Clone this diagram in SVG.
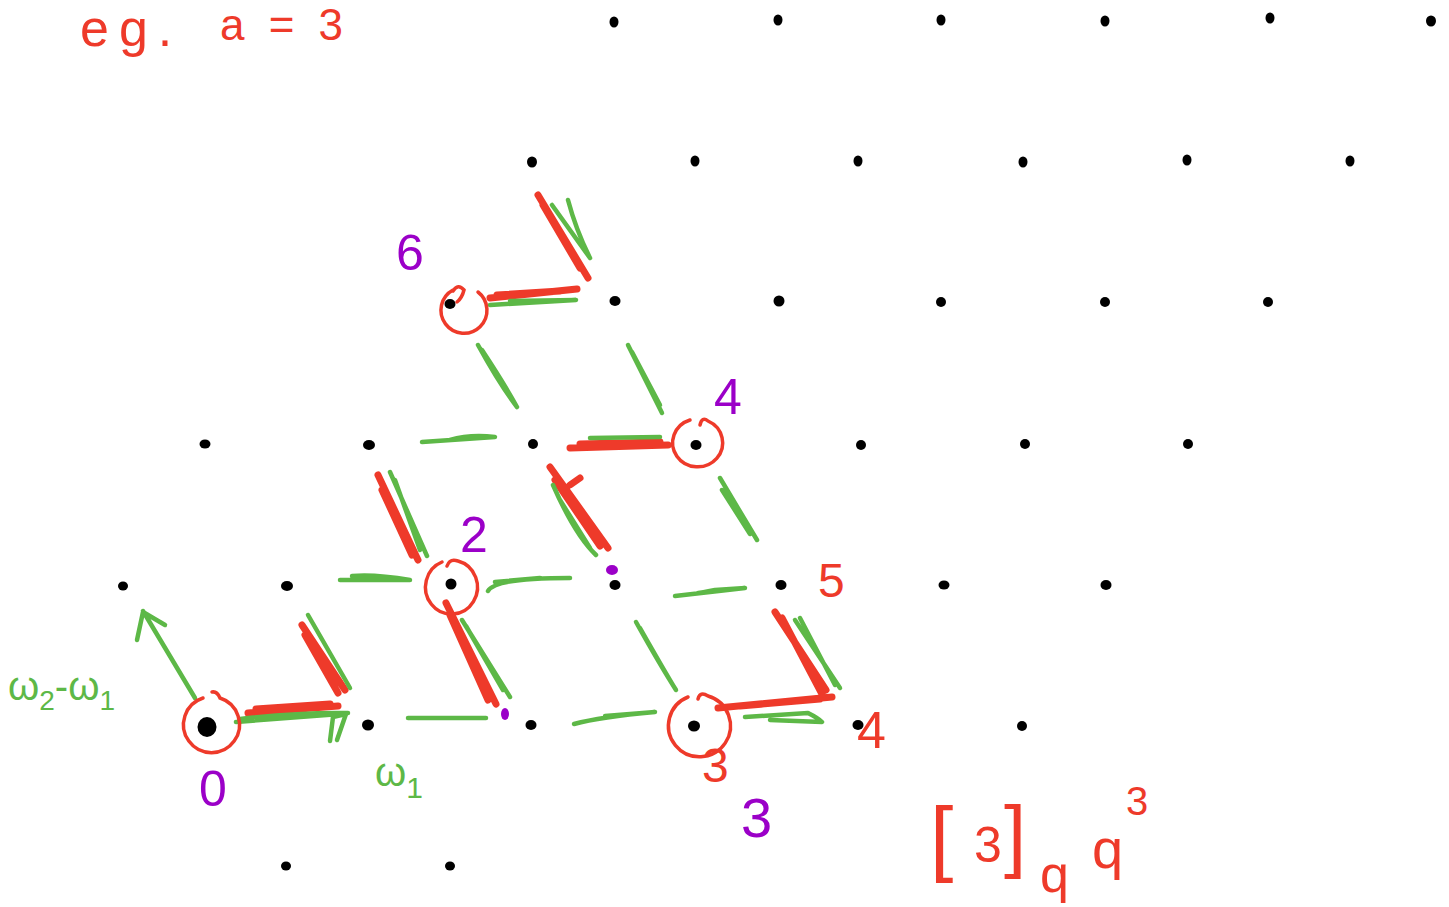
<svg xmlns="http://www.w3.org/2000/svg" width="1449" height="907" viewBox="0 0 1449 907">
<style>
.dot{fill:#000}
.g{stroke:#5DB847;stroke-width:4.5;fill:none;stroke-linecap:round;stroke-linejoin:round}
.r{stroke:#EE3A2A;stroke-width:7;fill:none;stroke-linecap:round;stroke-linejoin:round}
.rc{stroke:#EE3A2A;stroke-width:3.5;fill:none;stroke-linecap:round}
.tr{fill:#EE3A2A;font-family:"Liberation Sans",Arial,sans-serif}
.tp{fill:#9B00C8;font-family:"Liberation Sans",Arial,sans-serif}
.tg{fill:#5DB847;font-family:"Liberation Sans",Arial,sans-serif}
.pd{fill:#9B00C8}
</style>
<rect width="1449" height="907" fill="#fff"/>
<g id="lattice-dots">
<g id="row0"><ellipse class="dot" cx="614" cy="22" rx="4.5" ry="5.5"/><ellipse class="dot" cx="778" cy="20" rx="4.5" ry="5.5"/><ellipse class="dot" cx="941" cy="20" rx="4.5" ry="5.5"/><ellipse class="dot" cx="1105" cy="21" rx="4.5" ry="5.5"/><ellipse class="dot" cx="1270" cy="18" rx="4.5" ry="5.5"/><ellipse class="dot" cx="1431" cy="21" rx="5" ry="5.5"/></g>
<g id="row1"><ellipse class="dot" cx="532" cy="162" rx="5" ry="5.5"/><ellipse class="dot" cx="695" cy="161" rx="4.5" ry="5.5"/><ellipse class="dot" cx="858" cy="161" rx="4.5" ry="5.5"/><ellipse class="dot" cx="1023" cy="162" rx="4.5" ry="5.5"/><ellipse class="dot" cx="1187" cy="160" rx="4.5" ry="5.5"/><ellipse class="dot" cx="1350" cy="161" rx="4.5" ry="5.5"/></g>
<g id="row2"><ellipse class="dot" cx="450" cy="304" rx="5.5" ry="5"/><ellipse class="dot" cx="615" cy="301" rx="5.5" ry="5"/><ellipse class="dot" cx="779" cy="301" rx="5.5" ry="5.5"/><ellipse class="dot" cx="941" cy="302" rx="5" ry="5"/><ellipse class="dot" cx="1105" cy="302" rx="5" ry="5"/><ellipse class="dot" cx="1268" cy="302" rx="5" ry="5"/></g>
<g id="row3"><ellipse class="dot" cx="205" cy="444" rx="5.5" ry="4.5"/><ellipse class="dot" cx="369" cy="445" rx="6" ry="5"/><ellipse class="dot" cx="533" cy="444" rx="5" ry="5"/><ellipse class="dot" cx="696" cy="445" rx="5.5" ry="5"/><ellipse class="dot" cx="861" cy="445" rx="5" ry="5"/><ellipse class="dot" cx="1025" cy="444" rx="5" ry="5"/><ellipse class="dot" cx="1188" cy="444" rx="5" ry="5"/></g>
<g id="row4"><ellipse class="dot" cx="123" cy="586" rx="5" ry="4.5"/><ellipse class="dot" cx="287" cy="586" rx="6" ry="5"/><ellipse class="dot" cx="451" cy="584" rx="5.5" ry="5.5"/><ellipse class="dot" cx="615" cy="585" rx="5.5" ry="5"/><ellipse class="dot" cx="781" cy="585" rx="5.5" ry="5"/><ellipse class="dot" cx="944" cy="585" rx="5.5" ry="4.5"/><ellipse class="dot" cx="1106" cy="585" rx="5.5" ry="5"/></g>
<g id="row5"><ellipse class="dot" cx="207" cy="727" rx="9.5" ry="10"/><ellipse class="dot" cx="368" cy="725" rx="6" ry="5.5"/><ellipse class="dot" cx="531" cy="725" rx="5.5" ry="5"/><ellipse class="dot" cx="694" cy="726" rx="6" ry="5.5"/><ellipse class="dot" cx="858" cy="725" rx="5.5" ry="5"/><ellipse class="dot" cx="1022" cy="726" rx="5" ry="5"/></g>
<g id="row6"><ellipse class="dot" cx="286" cy="866" rx="5" ry="4.5"/><ellipse class="dot" cx="450" cy="866" rx="5" ry="4.5"/></g>
</g>
<g id="connectors">
<path class="r" d="M248 713 L338 706 M256 709 L330 704"/>
<path class="g" d="M236 722 L340 714 M240 719 Q300 712 348 713"/>
<path class="g" d="M330 741 L333 717 L346 714 L337 740"/>
<path class="g" d="M408 718 L486 718"/>
<path class="g" d="M574 724 Q600 717 655 712 L605 716"/>
<path class="r" d="M718 708 L832 697 M740 706 L820 699"/>
<path class="g" d="M745 717 L808 713 Q818 718 822 722 L770 720"/>
<path class="r" d="M302 625 L345 690 M305 635 L338 693"/>
<path class="g" d="M308 615 L350 688"/>
<path class="r" d="M446 603 L496 704 M450 615 L488 700"/>
<path class="g" d="M462 620 L510 697 M466 626 L503 690"/>
<path class="g" d="M636 622 Q660 665 676 690 Q665 672 640 628"/>
<path class="r" d="M775 612 L826 690 M782 618 L822 694"/>
<path class="g" d="M795 620 L840 688 M800 618 L835 685"/>
<path class="g" d="M340 580 L410 580 Q375 574 352 576"/>
<path class="g" d="M488 591 Q495 578 570 578 M495 582 L540 578"/>
<path class="g" d="M675 596 L745 588 L715 590 Q700 593 698 593"/>
<path class="r" d="M378 475 L418 560 M382 490 L412 555"/>
<path class="g" d="M390 472 L427 556 M395 480 L420 550"/>
<path class="r" d="M550 467 L608 548 M555 480 L600 546 M570 485 L580 478"/>
<path class="g" d="M553 485 Q575 535 596 555 M560 500 L590 548"/>
<path class="g" d="M720 478 L757 540 M722 490 L750 534"/>
<path class="g" d="M422 442 L495 437 Q470 434 450 440"/>
<path class="r" d="M570 448 L668 445 M580 444 L660 442"/>
<path class="g" d="M590 438 L660 437"/>
<path class="g" d="M478 345 Q500 385 517 407 Q505 385 482 350"/>
<path class="g" d="M628 345 L662 413 M632 352 L660 405"/>
<path class="r" d="M490 298 L577 289 M497 295 L560 291"/>
<path class="g" d="M490 305 L576 300 L510 301"/>
<path class="r" d="M538 195 L588 278 M543 205 L580 268"/>
<path class="g" d="M552 205 L590 258 M568 200 Q576 230 590 258"/>
<path class="g" d="M195 698 L143 611 M137 640 L143 612 L165 625 L160 622"/>
</g>
<g id="node-0"><path class="rc" d="M203 698 A28 28 0 1 0 220 698 Q217 691 212 692"/></g>
<g id="node-2"><path class="rc" d="M442 562 A26 27 0 1 0 458 561 Q450 558 447 566"/></g>
<g id="node-4"><path class="rc" d="M690 420 A25 24 0 1 0 708 421 Q702 416 700 425"/></g>
<g id="node-6"><path class="rc" d="M453 291 Q458 283 464 290 Q462 298 457 302 M478 292 A23 23 0 1 1 453 290"/></g>
<g id="node-3"><path class="rc" d="M688 697 A31 31 0 1 0 708 696 Q700 691 698 699"/></g>
<g id="purple-dots"><ellipse class="pd" cx="612" cy="570" rx="6" ry="5"/><ellipse class="pd" cx="505" cy="714" rx="4" ry="6"/></g>
<g id="labels">
<text class="tr" x="80" y="46" font-size="52" letter-spacing="10">eg.</text>
<text class="tr" x="220" y="40" font-size="44" letter-spacing="6">a = 3</text>
<text class="tp" x="396" y="270" font-size="50">6</text>
<text class="tp" x="714" y="414" font-size="50">4</text>
<text class="tp" x="460" y="552" font-size="50">2</text>
<text class="tp" x="199" y="806" font-size="50">0</text>
<text class="tp" x="741" y="837" font-size="56">3</text>
<text class="tr" x="818" y="597" font-size="48">5</text>
<text class="tr" x="857" y="748" font-size="52">4</text>
<text class="tr" x="702" y="782" font-size="48">3</text>
<text class="tg" x="8" y="700" font-size="40">ω<tspan font-size="28" dy="10">2</tspan><tspan dy="-10">-ω</tspan><tspan font-size="28" dy="10">1</tspan></text>
<text class="tg" x="375" y="786" font-size="40">ω<tspan font-size="30" dy="12">1</tspan></text>
<text class="tr" x="930" y="866" font-size="84">[</text>
<text class="tr" x="974" y="862" font-size="50">3</text>
<text class="tr" x="1004" y="862" font-size="80">]</text>
<text class="tr" x="1040" y="892" font-size="52">q</text>
<text class="tr" x="1092" y="868" font-size="56">q</text>
<text class="tr" x="1126" y="815" font-size="40">3</text>
</g>
</svg>
